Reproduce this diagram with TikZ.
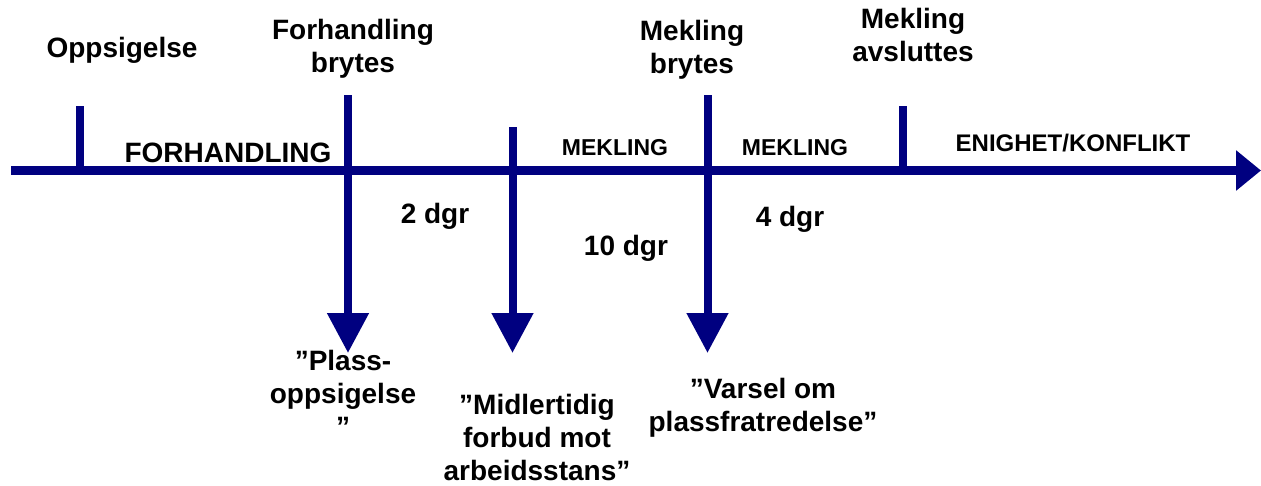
\documentclass[tikz,border=0pt]{standalone}
\usepackage{fontspec}
\setmainfont{Liberation Sans}
\usetikzlibrary{arrows.meta}
\definecolor{navyline}{RGB}{0,0,128}
\begin{document}
\begin{tikzpicture}[x=1pt,y=-1pt,
  axis/.style={navyline, line width=9pt, -{Triangle[length=25pt,width=39pt]}},
  tickline/.style={navyline, line width=8pt},
  downarrow/.style={navyline, line width=8pt, -{Triangle[length=40pt,width=40pt]}},
  lbl/.style={font=\bfseries\fontsize{28}{33}\selectfont, align=center, inner sep=0pt, anchor=base},
  seglbl/.style={font=\bfseries\fontsize{23}{28}\selectfont, inner sep=0pt, anchor=base}]
\useasboundingbox (0,0) rectangle (1261,485);
% main time axis
\coordinate (s) at (11,170.5);
\coordinate (e) at (1261,170.5);
\draw[axis] (s) -- (e);
% ticks
\coordinate (t1) at (80,106);  \coordinate (b1) at (80,170.5);
\coordinate (t2) at (348,95);  \coordinate (b2) at (348,353);
\coordinate (t3) at (512.5,127); \coordinate (b3) at (512.5,353);
\coordinate (t4) at (707.5,95);  \coordinate (b4) at (707.5,353);
\coordinate (t5) at (903,106); \coordinate (b5) at (903,170.5);
\draw[tickline] (t1) -- (b1);
\draw[tickline] (t5) -- (b5);
\draw[downarrow] (t2) -- (b2);
\draw[downarrow] (t3) -- (b3);
\draw[downarrow] (t4) -- (b4);
% top labels (anchor = baseline of last line)
\node[lbl] (oppsigelse) at (122,57) {Oppsigelse};
\node[lbl] (forhbryt) at (353,72) {Forhandling\\brytes};
\node[lbl] (mekbryt) at (692,73) {Mekling\\brytes};
\node[lbl] (mekavsl) at (913,61) {Mekling\\avsluttes};
% segment labels
\node[lbl] (forh) at (228,162) {FORHANDLING};
\node[seglbl] (mek1) at (615,155) {MEKLING};
\node[seglbl] (mek2) at (795,155) {MEKLING};
\node[seglbl, font=\bfseries\fontsize{24}{28}\selectfont] (enighet) at (1073,151) {ENIGHET/KONFLIKT};
% durations
\node[lbl] (d2) at (435,223) {2 dgr};
\node[lbl] (d10) at (626,255) {10 dgr};
\node[lbl] (d4) at (790,226) {4 dgr};
% bottom labels
\node[lbl] (plass) at (343,436) {”Plass-\\oppsigelse\\”};
\node[lbl] (midl) at (537,480) {”Midlertidig\\forbud mot\\arbeidsstans”};
\node[lbl] (varsel) at (763,431) {”Varsel om\\plassfratredelse”};
\end{tikzpicture}
\end{document}
